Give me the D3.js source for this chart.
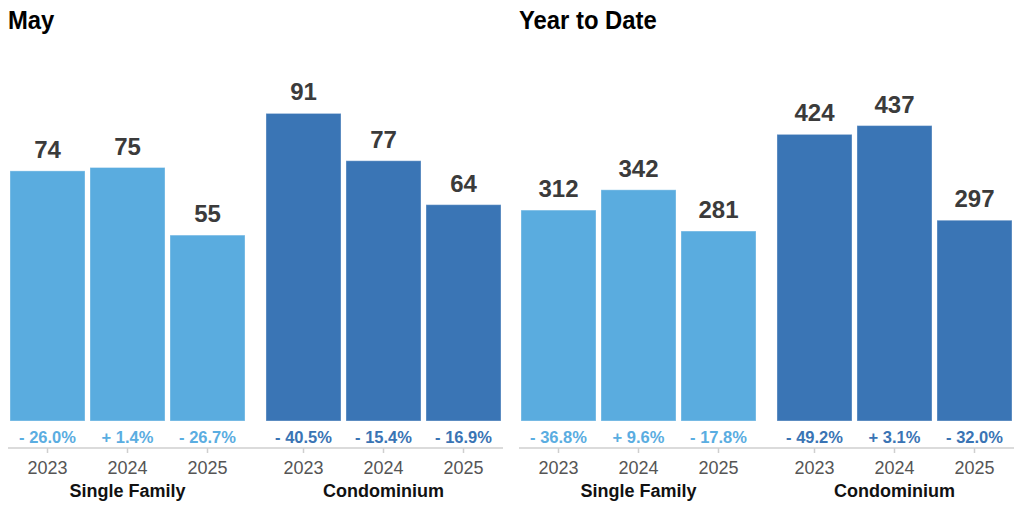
<!DOCTYPE html>
<html>
<head>
<meta charset="utf-8">
<script src="https://cdn.jsdelivr.net/npm/d3@7"></script>
<style>
  body { margin: 0; background: #fff; }
  svg { font-family: "Liberation Sans", Arial, Helvetica, sans-serif; }
</style>
</head>
<body>
<svg class="chart" width="1024" height="509"></svg>
<script>
const years = ['2023', '2024', '2025']
const groups = ['Single Family', 'Condominium']
const panels = ['May', 'Year to Date']

const maySingle = [74, 75, 55]
const mayCondo = [91, 77, 64]
const ytdSingle = [312, 342, 281]
const ytdCondo = [424, 437, 297]

const mayPctSingle = ['- 26.0%', '+ 1.4%', '- 26.7%']
const mayPctCondo = ['- 40.5%', '- 15.4%', '- 16.9%']
const ytdPctSingle = ['- 36.8%', '+ 9.6%', '- 17.8%']
const ytdPctCondo = ['- 49.2%', '+ 3.1%', '- 32.0%']

const panelMax = [100, 500]

const barColors = ['#5aacdf', '#3a75b5']
const pctColors = ['#5aade1', '#3a74b4']

const baseY = 421
const topY = 83
const axisY = 448
const panelW = 511

const panelData = [
  [{values: maySingle, pct: mayPctSingle}, {values: mayCondo, pct: mayPctCondo}],
  [{values: ytdSingle, pct: ytdPctSingle}, {values: ytdCondo, pct: ytdPctCondo}]
]

const svg = d3.select('.chart')

const groupScale = d3.scaleBand()
                     .domain(groups)
                     .range([10, 501])
                     .paddingInner(0.082)
                     .paddingOuter(0)

const yearScale = d3.scaleBand()
                    .domain(years)
                    .range([0, groupScale.bandwidth()])
                    .paddingInner(0.0625)
                    .paddingOuter(0)

panels.forEach((title, p) => {
  const panel = svg.append('g')
                   .attr('transform', 'translate(' + (p * panelW) + ',0)')

  const yScale = d3.scaleLinear()
                   .domain([0, panelMax[p]])
                   .range([baseY, topY])

  // condensed-looking title
  panel.append('text')
       .attr('transform', 'translate(8,29) scale(0.9,1)')
       .style('font-weight', 'bold')
       .style('font-size', '26.5px')
       .attr('fill', '#000')
       .text(title)

  // baseline across the whole panel
  panel.append('line')
       .attr('x1', 8)
       .attr('x2', 503)
       .attr('y1', axisY)
       .attr('y2', axisY)
       .attr('stroke', '#cfcfcf')
       .attr('stroke-width', 1.5)

  groups.forEach((grp, g) => {
    const d = panelData[p][g]
    const gx = groupScale(grp)
    const gEl = panel.append('g')
                     .attr('transform', 'translate(' + gx + ',0)')

    const rows = years.map((yr, i) => ({year: yr, value: d.values[i], pct: d.pct[i]}))

    gEl.selectAll('rect')
       .data(rows)
       .enter()
       .append('rect')
       .attr('x', r => yearScale(r.year))
       .attr('y', r => yScale(r.value))
       .attr('width', yearScale.bandwidth())
       .attr('height', r => baseY - yScale(r.value))
       .attr('fill', barColors[g])
       .attr('stroke', 'rgba(255,255,255,0.35)')
       .attr('stroke-width', 1)

    gEl.selectAll('.value')
       .data(rows)
       .enter()
       .append('text')
       .attr('class', 'value')
       .attr('x', r => yearScale(r.year) + yearScale.bandwidth() / 2)
       .attr('y', r => yScale(r.value) - 13)
       .attr('text-anchor', 'middle')
       .style('font-size', '24px')
       .style('font-weight', 'bold')
       .attr('fill', '#3b3b3b')
       .text(r => r.value)

    gEl.selectAll('.pct')
       .data(rows)
       .enter()
       .append('text')
       .attr('class', 'pct')
       .attr('x', r => yearScale(r.year) + yearScale.bandwidth() / 2)
       .attr('y', 443)
       .attr('text-anchor', 'middle')
       .style('font-size', '16.5px')
       .style('font-weight', 'bold')
       .attr('fill', pctColors[g])
       .text(r => r.pct)

    const xAxis = d3.axisBottom(yearScale)
                    .tickSize(5)
                    .tickPadding(8)
                    .tickSizeOuter(0)
    const ax = gEl.append('g')
                  .attr('transform', 'translate(0,' + axisY + ')')
                  .call(xAxis)
    ax.select('.domain').remove()
    ax.selectAll('.tick line').attr('stroke', '#cfcfcf').attr('stroke-width', 1.5)
    ax.selectAll('.tick text')
      .attr('fill', '#555')
      .style('font-size', '18px')
      .style('font-family', '"Liberation Sans", Arial, sans-serif')

    gEl.append('text')
       .attr('x', groupScale.bandwidth() / 2)
       .attr('y', 497)
       .attr('text-anchor', 'middle')
       .style('font-size', '18px')
       .style('font-weight', 'bold')
       .attr('fill', '#111')
       .text(grp)
  })
})
</script>
</body>
</html>
